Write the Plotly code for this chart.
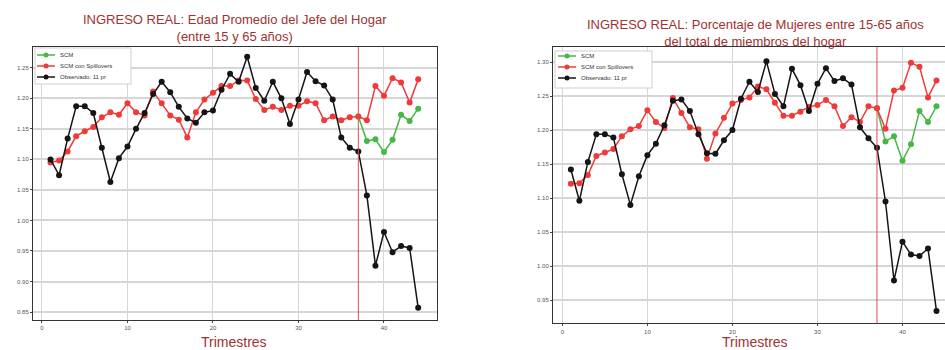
import plotly.graph_objects as go

# Trimestres
t_obs = list(range(1, 45))
t_scm = list(range(37, 45))

# Panel 1: Edad Promedio del Jefe del Hogar
obs_edad = [1.100, 1.074, 1.134, 1.187, 1.187, 1.176, 1.119, 1.063, 1.102, 1.121,
            1.150, 1.176, 1.207, 1.227, 1.210, 1.186, 1.167, 1.160, 1.177, 1.180,
            1.214, 1.240, 1.227, 1.268, 1.217, 1.196, 1.227, 1.200, 1.158, 1.198,
            1.243, 1.228, 1.221, 1.198, 1.136, 1.119, 1.113, 1.041, 0.926, 0.981,
            0.948, 0.958, 0.955, 0.857]
spill_edad = [1.095, 1.098, 1.113, 1.138, 1.146, 1.153, 1.169, 1.177, 1.173, 1.192,
              1.177, 1.172, 1.211, 1.192, 1.172, 1.165, 1.136, 1.177, 1.198, 1.209,
              1.220, 1.220, 1.229, 1.229, 1.199, 1.181, 1.186, 1.181, 1.188, 1.188,
              1.195, 1.192, 1.164, 1.170, 1.164, 1.169, 1.170, 1.164, 1.220, 1.204,
              1.233, 1.226, 1.193, 1.231]
scm_edad = [1.170, 1.130, 1.133, 1.112, 1.132, 1.173, 1.163, 1.183]

# Panel 2: Porcentaje de Mujeres 15-65
obs_muj = [1.142, 1.096, 1.153, 1.194, 1.194, 1.189, 1.135, 1.090, 1.132, 1.163,
           1.180, 1.207, 1.243, 1.245, 1.228, 1.194, 1.166, 1.165, 1.185, 1.200,
           1.246, 1.271, 1.256, 1.301, 1.253, 1.235, 1.290, 1.266, 1.228, 1.268,
           1.291, 1.272, 1.276, 1.267, 1.204, 1.188, 1.174, 1.095, 0.979, 1.036,
           1.017, 1.015, 1.026, 0.934]
spill_muj = [1.121, 1.122, 1.134, 1.162, 1.167, 1.172, 1.191, 1.201, 1.206, 1.229,
             1.212, 1.203, 1.247, 1.225, 1.204, 1.201, 1.158, 1.195, 1.218, 1.239,
             1.244, 1.248, 1.264, 1.260, 1.240, 1.221, 1.221, 1.227, 1.234, 1.237,
             1.244, 1.235, 1.206, 1.219, 1.212, 1.235, 1.232, 1.202, 1.258, 1.262,
             1.299, 1.293, 1.248, 1.273]
scm_muj = [1.232, 1.183, 1.191, 1.155, 1.179, 1.228, 1.212, 1.235]

series_names = ["SCM", "SCM con Spillovers", "Observado: 11 pr"]
treat_t = 37
x_ticks = [0, 10, 20, 30, 40]

W, H = 945, 350
TITLE_COLOR = "#a03232"
GREEN = "#45b845"
RED = "#f03a3a"
BLACK = "#151515"
COLORS = [GREEN, RED, BLACK]
FONT = "Liberation Sans"


def px(x):
    return x / W


def py(y):
    return (H - y) / H


fig = go.Figure()

panels = [
    ("x", "y", obs_edad, spill_edad, scm_edad),
    ("x2", "y2", obs_muj, spill_muj, scm_muj),
]

for xa, ya, obs, spill, scm in panels:
    for tx, vals, col, name in [(t_scm, scm, GREEN, series_names[0]),
                                (t_obs, spill, RED, series_names[1]),
                                (t_obs, obs, BLACK, series_names[2])]:
        fig.add_trace(go.Scatter(x=tx, y=vals, mode="lines+markers", name=name,
                                 line=dict(color=col, width=1.5), marker=dict(size=6, color=col),
                                 xaxis=xa, yaxis=ya, showlegend=False))
    # treatment line
    fig.add_shape(type="line", xref=xa, yref=ya + " domain", x0=treat_t, x1=treat_t, y0=0, y1=1,
                  line=dict(color="#d85050", width=1))


# small matplotlib-like legend box (drawn in paper space, text kept as text)
def draw_legend(box, key_x0, key_x1, text_x, rows_y):
    x0, y0, x1, y1 = box
    fig.add_shape(type="rect", xref="paper", yref="paper", x0=px(x0), x1=px(x1), y0=py(y0), y1=py(y1),
                  line=dict(color="#cfcfcf", width=1), fillcolor="white", layer="above")
    for name, col, ry in zip(series_names, COLORS, rows_y):
        fig.add_shape(type="line", xref="paper", yref="paper", x0=px(key_x0), x1=px(key_x1),
                      y0=py(ry), y1=py(ry), line=dict(color=col, width=1.5), layer="above")
        fig.add_shape(type="circle", xref="paper", yref="paper",
                      x0=px((key_x0 + key_x1) / 2 - 2.5), x1=px((key_x0 + key_x1) / 2 + 2.5),
                      y0=py(ry - 2.5), y1=py(ry + 2.5), line=dict(color=col, width=0),
                      fillcolor=col, layer="above")
        fig.add_annotation(x=px(text_x), y=py(ry), xref="paper", yref="paper", text=name,
                           showarrow=False, xanchor="left", yanchor="middle",
                           font=dict(size=6, color="#333", family=FONT))


draw_legend((35, 48, 131, 84), 37, 55, 58, [55, 66, 77])
draw_legend((555, 51, 652, 88), 558, 576, 579, [56, 67, 78])

axis_common = dict(showgrid=True, gridcolor="#d6d6d6", ticks="outside", ticklen=2,
                   tickcolor="#444", tickfont=dict(size=6, color="#555", family=FONT),
                   showline=True, linecolor="#333", linewidth=1, zeroline=False, automargin=False)

fig.update_layout(
    width=W, height=H,
    margin=dict(l=0, r=0, t=0, b=0),
    paper_bgcolor="white", plot_bgcolor="white",
    font=dict(family=FONT),
    showlegend=False,
    xaxis=dict(domain=[px(33), px(437)], range=[-1.05, 46.2], tickvals=x_ticks, mirror=True,
               gridwidth=1, anchor="y", **axis_common),
    yaxis=dict(domain=[30 / H, 303 / H], range=[0.837, 1.284], dtick=0.05, tickformat=".2f",
               mirror=True, gridwidth=2, anchor="x", **axis_common),
    xaxis2=dict(domain=[px(553), 1.0], range=[-1.1, 45.0], tickvals=x_ticks, mirror=True,
                gridwidth=1, anchor="y2", **axis_common),
    yaxis2=dict(domain=[26.7 / H, 303.3 / H], range=[0.916, 1.3225], dtick=0.05, tickformat=".2f",
                mirror=False, gridwidth=2, anchor="x2", **axis_common),
)

titles = [
    (235, "INGRESO REAL: Edad Promedio del Jefe del Hogar<br>(entre 15 y 65 años)", 10),
    (755, "INGRESO REAL: Porcentaje de Mujeres entre 15-65 años<br>del total de miembros del hogar", 15),
]
for cx, txt, top in titles:
    fig.add_annotation(x=px(cx), y=py(top), xref="paper", yref="paper", text=txt,
                       showarrow=False, xanchor="center", yanchor="top",
                       font=dict(size=13, color=TITLE_COLOR, family=FONT))

for cx in [234, 755]:
    fig.add_annotation(x=px(cx), y=0, xref="paper", yref="paper", text="Trimestres",
                       showarrow=False, xanchor="center", yanchor="bottom", yshift=-2,
                       font=dict(size=14, color=TITLE_COLOR, family=FONT))

# drop the default page margin so the figure sits at the window's top-left corner
fig.write_html("out.html", config={"displayModeBar": False},
               post_script="document.body.style.margin='0px';")
